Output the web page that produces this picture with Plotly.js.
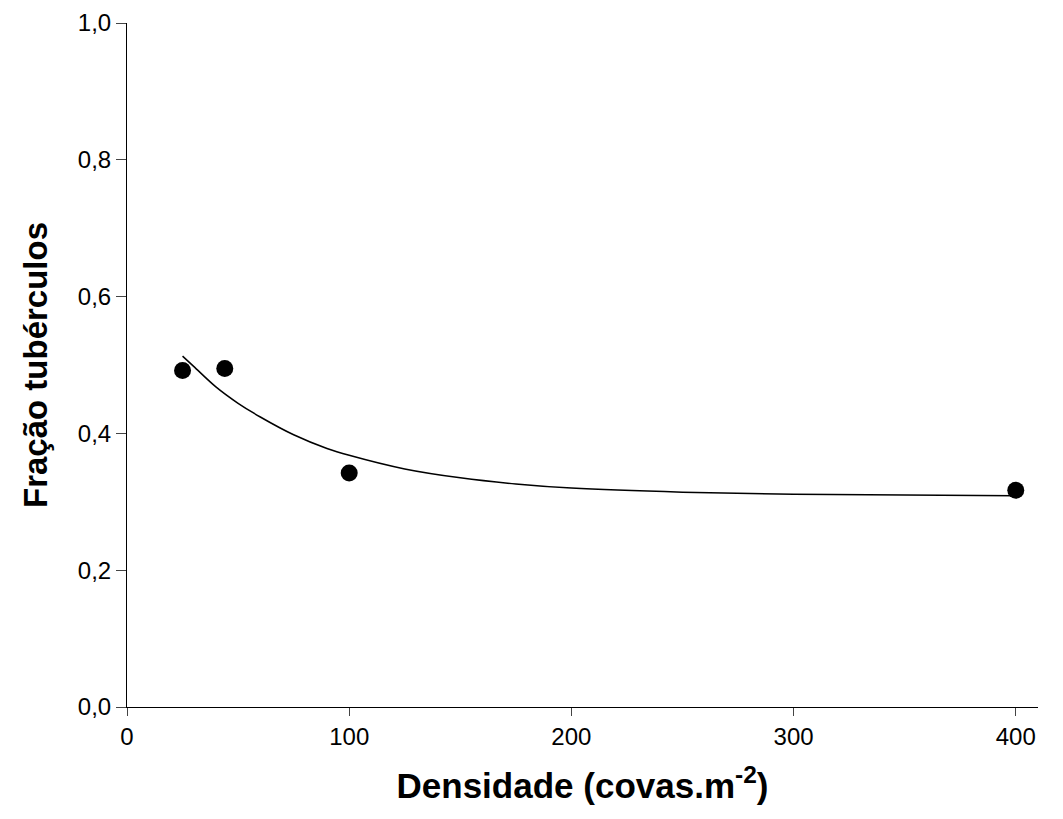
<!DOCTYPE html>
<html><head><meta charset="utf-8">
<script src="https://cdn.plot.ly/plotly-3.0.1.min.js"></script>
</head><body style="margin:0">
<div id="c" style="width:1063px;height:819px"></div>
<script>
const obsX = [25, 44, 100, 400];
const obsY = [0.492, 0.495, 0.342, 0.317];
const fitX = [25, 30, 40, 50, 60, 75, 90, 100, 125, 150, 175, 200, 250, 300, 350, 400];
const fitY = [0.513, 0.498, 0.468, 0.444, 0.424, 0.398, 0.378, 0.368, 0.348, 0.335, 0.326, 0.320, 0.314, 0.311, 0.310, 0.309];
const xTicks = [0, 100, 200, 300, 400];
const yTicks = [0, 0.2, 0.4, 0.6, 0.8, 1.0];
const yLabels = ["0,0","0,2","0,4","0,6","0,8","1,0"];
const fam = "Liberation Sans, Arial, sans-serif";
Plotly.newPlot("c", [
 {x:fitX, y:fitY, mode:"lines", line:{color:"#000", width:1.5, shape:"spline"}, showlegend:false},
 {x:obsX, y:obsY, mode:"markers", marker:{color:"#000", size:17}, showlegend:false}
], {
 width:1063, height:819, paper_bgcolor:"#fff", plot_bgcolor:"#fff",
 margin:{l:127, r:25, t:23, b:112}, font:{family:fam, size:18, color:"#000"},
 xaxis:{range:[0,410], tickvals:xTicks, ticks:"outside", ticklen:8, showgrid:false, zeroline:false,
   showline:true, linecolor:"#000", tickfont:{family:fam, size:24, color:"#000"},
   title:{text:"<b>Densidade (covas.m<sup>-2</sup>)</b>", font:{family:fam, size:35, color:"#000"}, standoff:24}},
 yaxis:{range:[0,1.0], tickvals:yTicks, ticktext:yLabels, ticks:"outside", ticklen:10, showgrid:false, zeroline:false,
   showline:true, linecolor:"#000", tickfont:{family:fam, size:24, color:"#000"},
   title:{text:"<b>Fração tubérculos</b>", font:{family:fam, size:33, color:"#000"}, standoff:20}}
}, {displayModeBar:false});
</script></body></html>
